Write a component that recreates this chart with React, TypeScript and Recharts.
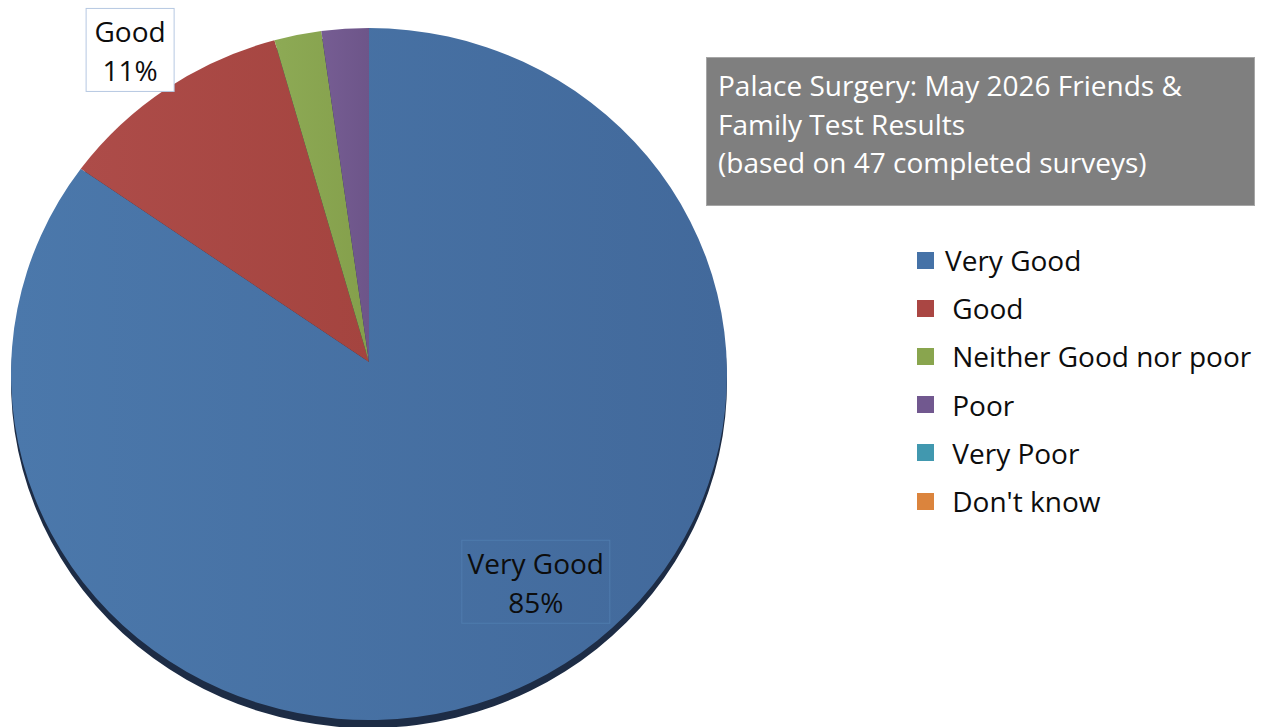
import { PieChart, Pie, Cell, Legend } from "recharts";

// Palace Surgery – Friends & Family Test, May 2026 (47 responses)
const CATEGORIES = [
  "Very Good",
  " Good",
  " Neither Good nor poor",
  " Poor",
  " Very Poor",
  " Don't know",
];
const RESPONSES = [40, 5, 1, 1, 0, 0];
const SLICE_COLORS = ["#4572A7", "#AA4643", "#89A54E", "#71588F", "#4198AF", "#DB843D"];
const TITLE_LINES = [
  "Palace Surgery: May 2026 Friends &",
  "Family Test Results",
  "(based on 47 completed surveys)",
];

const TOTAL = RESPONSES.reduce((a, b) => a + b, 0);
const slices = CATEGORIES.map((name, i) => ({ name: name.trim(), value: RESPONSES[i] }));

// light -> dark horizontal shading, like the Excel 2007 pie
const SHADE: [string, string][] = [
  ["#4b78ab", "#42699b"],
  ["#ad4c49", "#a4443f"],
  ["#8daa55", "#849f4b"],
  ["#765d93", "#6d5589"],
  ["#4198AF", "#3b8da3"],
  ["#DB843D", "#cf7a36"],
];

const FONT = "'Open Sans', sans-serif";
const CX = 369;
const CY = 374;
const RX = 358;
const SQUASH = 346 / 358; // the pie is seen slightly from above
const APEX_LIFT = 12;
const RAD = Math.PI / 180;

// which slices carry a data label, and how far out (fraction of radius) / rotated
const LABEL_FIT: Record<number, { k: number; turn: number; boxed: boolean }> = {
  0: { k: 0.76, turn: 11, boxed: false },
  1: { k: 1.15, turn: 1, boxed: true },
};

function EllipseSector(props: any) {
  const { cx, cy, outerRadius, startAngle, endAngle, fill } = props;
  const delta = endAngle - startAngle;
  if (Math.abs(delta) < 1e-6) return <g />;
  const rx = outerRadius;
  const ry = outerRadius * SQUASH;
  const pt = (a: number) => [cx + rx * Math.cos(a * RAD), cy - ry * Math.sin(a * RAD)];
  const [x1, y1] = pt(startAngle);
  const [x2, y2] = pt(endAngle);
  const large = Math.abs(delta) > 180 ? 1 : 0;
  const sweep = delta < 0 ? 1 : 0;
  const d = `M${cx},${cy - APEX_LIFT} L${x1},${y1} A${rx},${ry} 0 ${large} ${sweep} ${x2},${y2} Z`;
  return <path d={d} fill={fill} stroke="none" />;
}

function ShadowSector(props: any) {
  return <EllipseSector {...props} fill="#1d2c45" />;
}

function renderLabel(props: any) {
  const { cx, cy, midAngle, outerRadius, index } = props;
  const fit = LABEL_FIT[index];
  if (!fit) return null;
  const a = (midAngle + fit.turn) * RAD;
  const x = cx + fit.k * outerRadius * Math.cos(a);
  const y = cy - fit.k * outerRadius * SQUASH * Math.sin(a);
  const name = CATEGORIES[index].trim();
  const pct = `${Math.round((RESPONSES[index] / TOTAL) * 100)}%`;
  const w = fit.boxed ? 88 : 148;
  const h = 83;
  return (
    <g key={`lbl-${index}`}>
      <rect
        x={x - w / 2}
        y={y - h / 2}
        width={w}
        height={h}
        fill={fit.boxed ? "#ffffff" : "none"}
        stroke={fit.boxed ? "#b6c8e2" : "#4f7bae"}
        strokeWidth={1}
      />
      <text x={x} y={y - 8} textAnchor="middle" fontSize={28} fontFamily={FONT} fill="#0d0d0d">
        {name}
      </text>
      <text x={x} y={y + 31} textAnchor="middle" fontSize={28} fontFamily={FONT} fill="#0d0d0d">
        {pct}
      </text>
    </g>
  );
}

function LegendList() {
  return (
    <div style={{ fontFamily: FONT, fontSize: 28, color: "#0d0d0d" }}>
      {CATEGORIES.map((name, i) => (
        <div key={name} style={{ display: "flex", alignItems: "center", height: 48.2 }}>
          <span
            style={{
              width: 17,
              height: 17,
              background: SLICE_COLORS[i],
              marginRight: 11,
              flex: "none",
            }}
          />
          <span style={{ whiteSpace: "pre", lineHeight: "48px" }}>{name}</span>
        </div>
      ))}
    </div>
  );
}

export default function App() {
  return (
    <div style={{ position: "relative", width: 1266, height: 727, background: "#fff", overflow: "hidden" }}>
      <style>{`body{margin:0}`}</style>
      <PieChart width={1266} height={727} margin={{ top: 0, right: 0, bottom: 0, left: 0 }}>
        <defs>
          {SHADE.map(([l, r], i) => (
            <linearGradient key={i} id={`shade-${i}`} x1="0" y1="0" x2="1" y2="0">
              <stop offset="0%" stopColor={l} />
              <stop offset="100%" stopColor={r} />
            </linearGradient>
          ))}
        </defs>
        <Pie
          data={slices}
          dataKey="value"
          nameKey="name"
          cx={CX}
          cy={CY + 8}
          outerRadius={RX}
          startAngle={90}
          endAngle={-270}
          stroke="none"
          legendType="none"
          shape={ShadowSector}
          activeShape={ShadowSector}
          inactiveShape={ShadowSector}
          isAnimationActive={false}
        >
          {slices.map((s) => (
            <Cell key={s.name} fill="#1d2c45" />
          ))}
        </Pie>
        <Pie
          data={slices}
          dataKey="value"
          nameKey="name"
          cx={CX}
          cy={CY}
          outerRadius={RX}
          startAngle={90}
          endAngle={-270}
          stroke="none"
          shape={EllipseSector}
          activeShape={EllipseSector}
          inactiveShape={EllipseSector}
          label={renderLabel}
          labelLine={false}
          isAnimationActive={false}
        >
          {slices.map((s, i) => (
            <Cell key={s.name} fill={`url(#shade-${i})`} />
          ))}
        </Pie>
      </PieChart>
      <div style={{ position: "absolute", left: 917, top: 236, width: 340 }}>
        <LegendList />
      </div>
      <div
        style={{
          position: "absolute",
          left: 706,
          top: 57,
          width: 549,
          height: 149,
          boxSizing: "border-box",
          background: "#7f7f7f",
          border: "1px solid #a6a6a6",
          color: "#ffffff",
          fontFamily: FONT,
          fontSize: 28,
          lineHeight: "38.5px",
          padding: "8px 0 0 11px",
        }}
      >
        {TITLE_LINES.map((t) => (
          <div key={t} style={{ whiteSpace: "nowrap" }}>
            {t}
          </div>
        ))}
      </div>
    </div>
  );
}
